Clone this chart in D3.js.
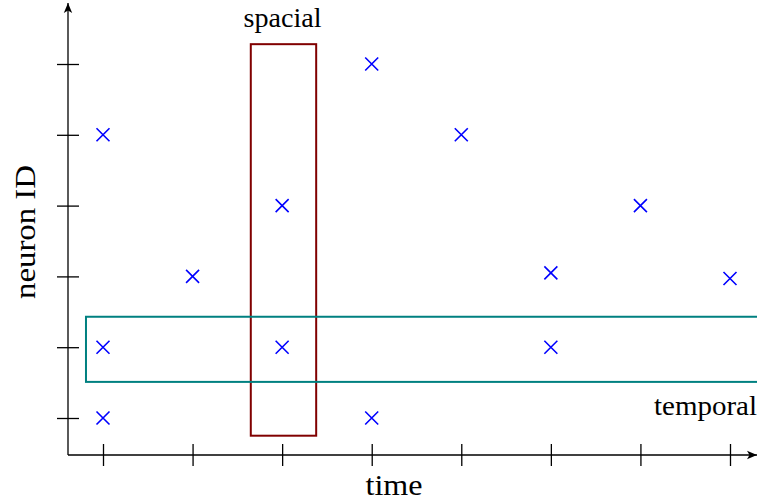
<!DOCTYPE html>
<html><head><meta charset="utf-8">
<script src="https://cdn.jsdelivr.net/npm/d3@7"></script>
<style>body{margin:0;background:#fff}svg{display:block}text{font-family:"Liberation Serif","DejaVu Serif",serif;fill:#000}</style>
</head><body>
<script>
const timeTicks = [1, 2, 3, 4, 5, 6, 7, 8];
const neuronTicks = [1, 2, 3, 4, 5, 6];
const spikeTime   = [1, 1, 1, 2, 3, 3, 4, 4, 5, 6, 6, 7, 8];
const spikeNeuron = [5, 2, 1, 3, 4, 2, 6, 1, 5, 3.05, 2, 4, 2.97];
const spacialBox  = {t: [2.65, 3.38], n: [0.75, 6.28], label: "spacial"};
const temporalBox = {t: [0.81, 8.5], n: [1.51, 2.43], label: "temporal"};
const xLabel = "time", yLabel = "neuron ID";

const W = 757, H = 502;
const svg = d3.select("body").append("svg").attr("width", W).attr("height", H);
const x = d3.scaleLinear().domain([1, 8]).range([103, 730]);
const y = d3.scaleLinear().domain([1, 6]).range([418, 64]);
const ox = x(x.invert(68)), oy = y(y.invert(455));

svg.append("defs").append("marker").attr("id", "arr")
  .attr("viewBox", "0 0 10 10").attr("refX", 10).attr("refY", 5)
  .attr("markerWidth", 10).attr("markerHeight", 10).attr("markerUnits", "userSpaceOnUse")
  .attr("orient", "auto")
  .append("path").attr("d", "M0,0.8 L10,5 L0,9.2 L2.5,5 Z").attr("fill", "#000");

// boxes
function box(b, color) {
  svg.append("rect")
    .attr("x", x(b.t[0])).attr("y", y(b.n[1]))
    .attr("width", x(b.t[1]) - x(b.t[0])).attr("height", y(b.n[0]) - y(b.n[1]))
    .attr("fill", "none").attr("stroke", color).attr("stroke-width", 2);
}
box(spacialBox, "#800000");
box(temporalBox, "#008080");

// axes lines
svg.append("line").attr("x1", ox).attr("y1", oy).attr("x2", ox).attr("y2", 3)
  .attr("stroke", "#000").attr("stroke-width", 1.3).attr("marker-end", "url(#arr)");
svg.append("line").attr("x1", ox).attr("y1", oy).attr("x2", 757).attr("y2", oy)
  .attr("stroke", "#000").attr("stroke-width", 1.3).attr("marker-end", "url(#arr)");

// ticks via d3 axes (crossing the axis line)
const gx = svg.append("g").attr("transform", `translate(0,${oy - 11})`)
  .call(d3.axisBottom(x).tickValues(timeTicks).tickSize(22).tickFormat(""));
const gy = svg.append("g").attr("transform", `translate(${ox + 11},0)`)
  .call(d3.axisLeft(y).tickValues(neuronTicks).tickSize(22).tickFormat(""));
[gx, gy].forEach(g => { g.select(".domain").remove(); g.selectAll(".tick line").attr("stroke", "#000").attr("stroke-width", 1.3); });

// spikes
const s = 6.5;
const pts = spikeTime.map((t, i) => ({t, n: spikeNeuron[i]}));
svg.append("g").selectAll("path").data(pts).join("path")
  .attr("d", d => `M${x(d.t) - s},${y(d.n) - s}L${x(d.t) + s},${y(d.n) + s}M${x(d.t) - s},${y(d.n) + s}L${x(d.t) + s},${y(d.n) - s}`)
  .attr("stroke", "#0000ff").attr("stroke-width", 1.6).attr("fill", "none");

// labels
function label(txt, tx, ty, size, len, anchor, rot) {
  return svg.append("text")
    .attr("transform", `translate(${tx},${ty})` + (rot ? ` rotate(${rot})` : ""))
    .attr("text-anchor", anchor).attr("font-size", size)
    .attr("textLength", len).attr("lengthAdjust", "spacingAndGlyphs").text(txt);
}
label(spacialBox.label, 282.5, 27, 26.5, 78, "middle");
label(temporalBox.label, 757, 415, 26.5, 103, "end");
label(xLabel, 394, 495, 30, 57, "middle");
label(yLabel, 35, 232, 30, 134, "middle", -90);
</script>
</body></html>
